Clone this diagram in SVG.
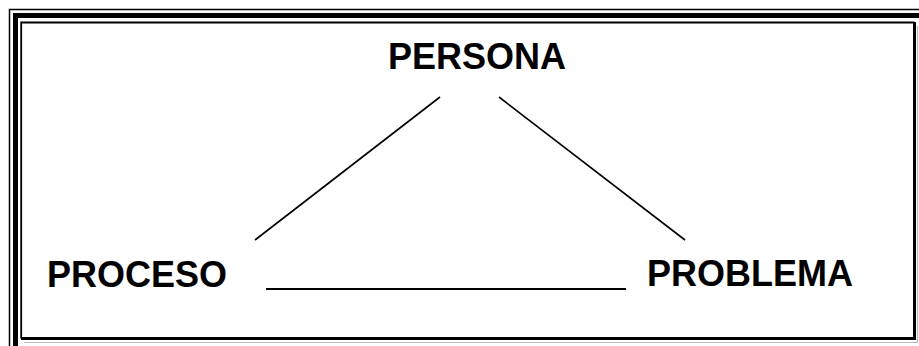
<svg xmlns="http://www.w3.org/2000/svg" width="919" height="346" viewBox="0 0 919 346">
<style>
.lbl{font-family:"Liberation Sans",Arial,sans-serif;font-weight:bold;font-size:36px;fill:#000}
.edge{stroke:#000;fill:none}
.bd{stroke:#000;fill:none}
</style>
<rect width="919" height="346" fill="#fff"/>
<g id="border">
<path class="bd" stroke-width="1.5" d="M9.5,346 V9.5 H919"/>
<path class="bd" stroke-width="5" d="M15.5,346 V15.5 H919"/>
<path class="bd" stroke-width="1.8" d="M21.2,338.5 V22.5 H914.5"/>
<path class="bd" stroke-width="3" d="M21,338.5 H914.5 V22"/>
<path stroke="#bbb" stroke-width="1.2" fill="none" d="M24,342.5 H917.5 V26"/>
</g>
<g id="connectors">
<line class="edge" stroke-width="1.6" x1="255" y1="240" x2="440" y2="97"/>
<line class="edge" stroke-width="1.6" x1="499" y1="97" x2="685" y2="240"/>
<line class="edge" stroke-width="2" x1="266" y1="289" x2="626" y2="289"/>
</g>
<g id="persona"><text class="lbl" x="388" y="69">PERSONA</text></g>
<g id="proceso"><text class="lbl" x="47" y="287">PROCESO</text></g>
<g id="problema"><text class="lbl" x="647" y="286">PROBLEMA</text></g>
</svg>
